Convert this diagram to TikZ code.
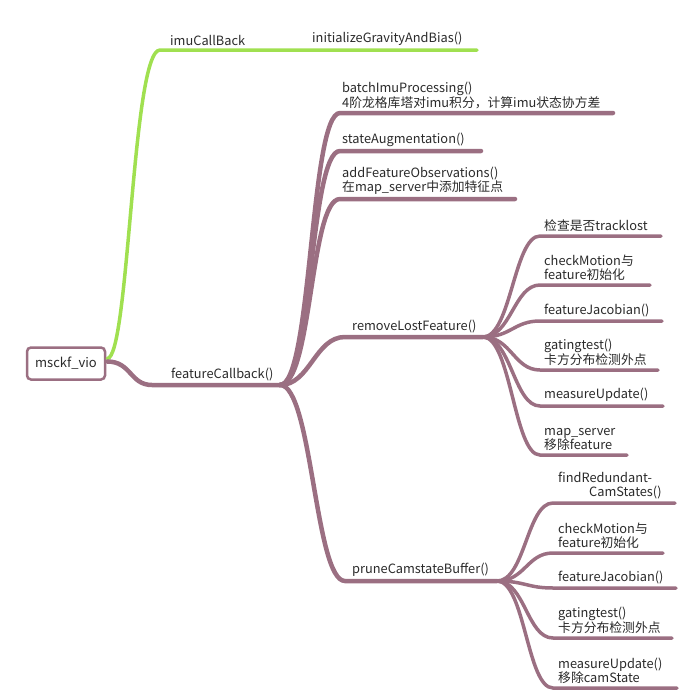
\documentclass[tikz,border=0pt]{standalone}
\usepackage{fontspec}
\setmainfont{Noto Sans CJK SC}
\usetikzlibrary{calc}
\definecolor{mindpurple}{HTML}{9B6F82}
\definecolor{mindgreen}{HTML}{A0E050}
\definecolor{mindtext}{HTML}{2A2A2A}

\tikzset{
	rootbox/.style={draw=mindpurple, line width=2.5pt, rounded corners=4pt, minimum width=78pt, minimum height=32pt, text=mindtext, font=\fontsize{13}{14}\selectfont},
	topic/.style={anchor=south west, inner sep=0pt, align=left, text=mindtext, font=\fontsize{12.8}{14}\selectfont},
	greenbranch/.style={draw=mindgreen, line width=3.5pt, line cap=round},
	mainbranch/.style={draw=mindpurple, line width=4.5pt, line cap=round},
	subbranch/.style={draw=mindpurple, line width=4pt, line cap=round},
	leafbranch/.style={draw=mindpurple, line width=3.5pt, line cap=round}
}

\begin{document}
\begin{tikzpicture}[x=1pt, y=-1pt]
	\useasboundingbox (0,0) rectangle (686,697);
	
	\node[rootbox] (root) at (66,363.5) {msckf\_vio};
	
	% imu branch
	\coordinate (imu) at (160,50);
	\coordinate (imuE) at (300,50);
	\coordinate (grav) at (300,50);
	\coordinate (gravE) at (477,50);
	\draw[greenbranch] ($(root.east)+(1,-5)$) .. controls +(22,0) and +(-28,0) .. (imu) -- (imuE) -- (gravE);
	\node[topic] (imuLabel) at ($(imu)+(10,-4)$) {imuCallBack};
	\node[topic] (gravLabel) at ($(grav)+(12,-4)$) {initializeGravityAndBias()};
	
	% feature branch
	\coordinate (fc) at (152,385);
	\coordinate (fcE) at (280,385);
	\draw[mainbranch] ($(root.east)+(1,-2)$) .. controls +(24,0) and +(-22,0) .. (fc) -- (fcE);
	\node[topic] (fcLabel) at ($(fc)+(19,-4)$) {featureCallback()};
	
	\coordinate (bat) at (340,113);   \coordinate (batE) at (613,113);
	\coordinate (sta) at (340,151);   \coordinate (staE) at (481,151);
	\coordinate (add) at (340,199);   \coordinate (addE) at (515,199);
	\coordinate (rem) at (345,337);   \coordinate (remE) at (483,337);
	\coordinate (pru) at (345,581);   \coordinate (pruE) at (497,581);
	
	\draw[mainbranch] (fcE) .. controls +(32,0) and +(-30,0) .. (bat) -- (batE);
	\draw[mainbranch] (fcE) .. controls +(32,0) and +(-30,0) .. (sta) -- (staE);
	\draw[mainbranch] (fcE) .. controls +(32,0) and +(-30,0) .. (add) -- (addE);
	\draw[mainbranch] (fcE) .. controls +(30,0) and +(-30,0) .. (rem) -- (remE);
	\draw[mainbranch] (fcE) .. controls +(32,0) and +(-30,0) .. (pru) -- (pruE);
	
	\node[topic] (batLabel) at ($(bat)+(2,-4)$) {batchImuProcessing()\\4阶龙格库塔对imu积分，计算imu状态协方差};
	\node[topic] (staLabel) at ($(sta)+(2,-4)$) {stateAugmentation()};
	\node[topic] (addLabel) at ($(add)+(2,-4)$) {addFeatureObservations()\\在map\_server中添加特征点};
	\node[topic] (remLabel) at ($(rem)+(7,-4)$) {removeLostFeature()};
	\node[topic] (pruLabel) at ($(pru)+(7,-4)$) {pruneCamstateBuffer()};
	
	% removeLostFeature children
	\coordinate (trk) at (540,236);   \coordinate (trkE) at (661,236);
	\coordinate (cmA) at (540,285);   \coordinate (cmAE) at (650,285);
	\coordinate (fjA) at (540,321);   \coordinate (fjAE) at (662,321);
	\coordinate (gtA) at (540,370);   \coordinate (gtAE) at (658,370);
	\coordinate (muA) at (540,406);   \coordinate (muAE) at (663,406);
	\coordinate (msA) at (540,455);   \coordinate (msAE) at (627,455);
	
	\foreach \c in {trk,cmA,fjA,gtA,muA,msA}
		\draw[leafbranch] (remE) .. controls +(28,0) and +(-26,0) .. (\c) -- (\c E);
	
	\node[topic] (trkLabel) at ($(trk)+(4,-4)$) {检查是否tracklost};
	\node[topic] (cmALabel) at ($(cmA)+(4,-4)$) {checkMotion与\\feature初始化};
	\node[topic] (fjALabel) at ($(fjA)+(4,-4)$) {featureJacobian()};
	\node[topic] (gtALabel) at ($(gtA)+(4,-4)$) {gatingtest()\\卡方分布检测外点};
	\node[topic] (muALabel) at ($(muA)+(4,-4)$) {measureUpdate()};
	\node[topic] (msALabel) at ($(msA)+(4,-4)$) {map\_server\\移除feature};
	
	% pruneCamstateBuffer children
	\coordinate (frB) at (553,503);   \coordinate (frBE) at (675,503);
	\coordinate (cmB) at (553,553);   \coordinate (cmBE) at (663,553);
	\coordinate (fjB) at (553,588);   \coordinate (fjBE) at (676,588);
	\coordinate (gtB) at (553,638);   \coordinate (gtBE) at (672,638);
	\coordinate (muB) at (553,688);   \coordinate (muBE) at (677,688);
	
	\foreach \c in {frB,cmB,fjB,gtB,muB}
		\draw[leafbranch] (pruE) .. controls +(28,0) and +(-26,0) .. (\c) -- (\c E);
	
	\node[topic] (frBLabel) at ($(frB)+(5,-4)$) {findRedundant-\\\hspace*{31pt}CamStates()};
	\node[topic] (cmBLabel) at ($(cmB)+(5,-4)$) {checkMotion与\\feature初始化};
	\node[topic] (fjBLabel) at ($(fjB)+(5,-4)$) {featureJacobian()};
	\node[topic] (gtBLabel) at ($(gtB)+(5,-4)$) {gatingtest()\\卡方分布检测外点};
	\node[topic] (muBLabel) at ($(muB)+(5,-4)$) {measureUpdate()\\移除camState};
\end{tikzpicture}
\end{document}
